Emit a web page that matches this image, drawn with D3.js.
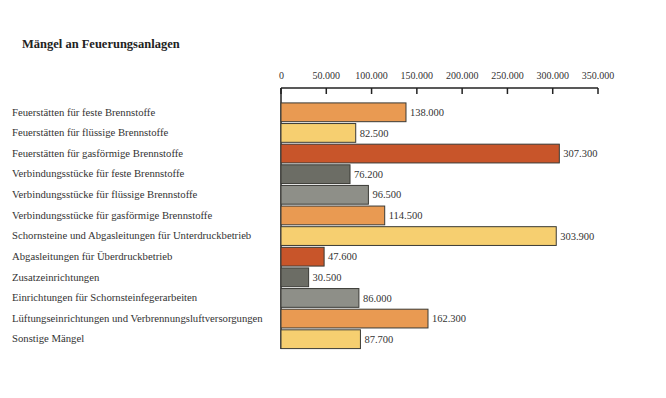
<!DOCTYPE html>
<html>
<head>
<meta charset="utf-8">
<script src="https://cdn.jsdelivr.net/npm/d3@7"></script>
<style>
  body { margin: 0; background: #fff; }
  svg text { font-family: "Liberation Serif", "DejaVu Serif", serif; fill: #333; }
</style>
</head>
<body>
<script>
// categories and values
var categories = [
  "Feuerstätten für feste Brennstoffe",
  "Feuerstätten für flüssige Brennstoffe",
  "Feuerstätten für gasförmige Brennstoffe",
  "Verbindungsstücke für feste Brennstoffe",
  "Verbindungsstücke für flüssige Brennstoffe",
  "Verbindungsstücke für gasförmige Brennstoffe",
  "Schornsteine und Abgasleitungen für Unterdruckbetrieb",
  "Abgasleitungen für Überdruckbetrieb",
  "Zusatzeinrichtungen",
  "Einrichtungen für Schornsteinfegerarbeiten",
  "Lüftungseinrichtungen und Verbrennungsluftversorgungen",
  "Sonstige Mängel"
];
var values = [138000, 82500, 307300, 76200, 96500, 114500, 303900, 47600, 30500, 86000, 162300, 87700];
var colorKeys = ["orange", "yellow", "red", "dark", "gray", "orange", "yellow", "red", "dark", "gray", "orange", "yellow"];
var tickValues = [0, 50000, 100000, 150000, 200000, 250000, 300000, 350000];

var palette = { orange: "#e99a52", yellow: "#f6cf70", red: "#c8552a", dark: "#6c6d65", gray: "#8e8f88" };

var width = 666, height = 398;
var svg = d3.select("body").append("svg")
    .attr("width", width)
    .attr("height", height);

// de-DE style thousands separator
var fmt = function(v) { return d3.format(",")(v).replace(/,/g, "."); };

var x = d3.scaleLinear().domain([0, 350000]).range([281, 598]);
var y = d3.scaleBand().domain(categories).range([102.5, 349]).paddingInner(0.09).paddingOuter(0.02);

svg.append("text")
    .attr("x", 22).attr("y", 48)
    .style("font-size", "12.5px").style("font-weight", "bold")
    .style("fill", "#222")
    .text("Mängel an Feuerungsanlagen");

// top axis
var axisY = 88;
var axis = svg.append("g").attr("transform", "translate(0," + axisY + ")");
axis.append("line")
    .attr("x1", x(0)).attr("x2", x(350000))
    .attr("stroke", "#222").attr("stroke-width", 1.5);
axis.selectAll(".tick")
    .data(tickValues).enter()
    .append("line")
    .attr("x1", function(d) { return x(d); })
    .attr("x2", function(d) { return x(d); })
    .attr("y1", 0).attr("y2", 6)
    .attr("stroke", "#222").attr("stroke-width", 1.5);
axis.selectAll(".lbl")
    .data(tickValues).enter()
    .append("text")
    .attr("x", function(d) { return x(d); })
    .attr("y", -9)
    .attr("text-anchor", function(d) { return d === 0 ? "start" : "middle"; })
    .attr("dx", function(d) { return d === 0 ? -2 : 0; })
    .style("font-size", "10px")
    .text(function(d) { return fmt(d); });

// left vertical line
svg.append("line")
    .attr("x1", x(0)).attr("x2", x(0))
    .attr("y1", axisY).attr("y2", y.range()[1])
    .attr("stroke", "#222").attr("stroke-width", 1.5);

// category labels
svg.selectAll(".cat")
    .data(categories).enter()
    .append("text")
    .attr("x", 12)
    .attr("y", function(d) { return y(d) + y.bandwidth() / 2 - 0.5; })
    .attr("dy", "0.35em")
    .style("font-size", "10.7px")
    .text(function(d) { return d; });

// bars
svg.selectAll(".bar")
    .data(values).enter()
    .append("rect")
    .attr("x", x(0))
    .attr("y", function(d, i) { return y(categories[i]); })
    .attr("width", function(d) { return x(d) - x(0); })
    .attr("height", y.bandwidth())
    .attr("fill", function(d, i) { return palette[colorKeys[i]]; })
    .attr("stroke", "#3a3a35").attr("stroke-width", 1);

// value labels
svg.selectAll(".val")
    .data(values).enter()
    .append("text")
    .attr("x", function(d) { return x(d) + 4; })
    .attr("y", function(d, i) { return y(categories[i]) + y.bandwidth() / 2; })
    .attr("dy", "0.35em")
    .style("font-size", "10.5px")
    .text(function(d) { return fmt(d); });
</script>
</body>
</html>
